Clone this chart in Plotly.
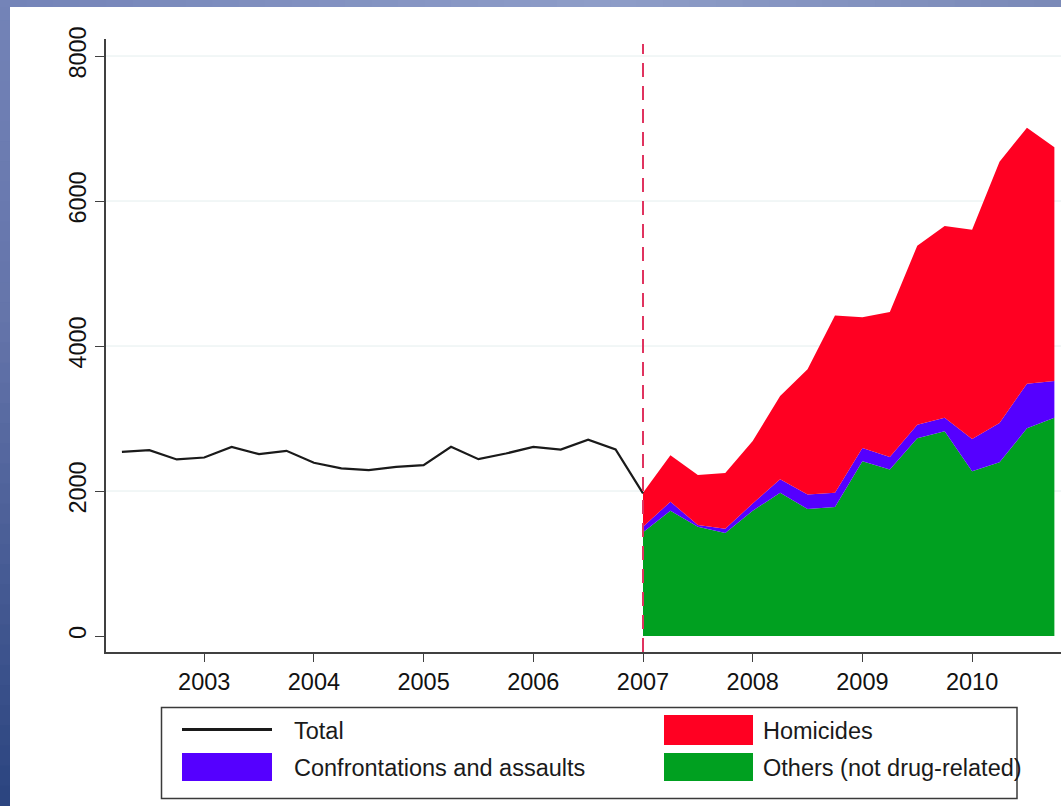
import plotly.graph_objects as go

# ---------------- data ----------------
quarters_pre = ["2002q2", "2002q3", "2002q4", "2003q1", "2003q2", "2003q3", "2003q4",
                "2004q1", "2004q2", "2004q3", "2004q4", "2005q1", "2005q2", "2005q3",
                "2005q4", "2006q1", "2006q2", "2006q3", "2006q4", "2007q1"]
total_pre = [2540, 2563, 2435, 2462, 2609, 2508, 2554, 2389, 2311, 2288, 2334, 2357,
             2609, 2439, 2517, 2609, 2572, 2709, 2572, 1968]

quarters_post = ["2007q1", "2007q2", "2007q3", "2007q4", "2008q1", "2008q2", "2008q3",
                 "2008q4", "2009q1", "2009q2", "2009q3", "2009q4", "2010q1", "2010q2",
                 "2010q3", "2010q4"]
others = [1432, 1728, 1506, 1422, 1728, 1975, 1753, 1778, 2410, 2296, 2726, 2825,
          2272, 2395, 2864, 3012]
confrontations = [74, 124, 25, 59, 99, 188, 198, 197, 183, 173, 188, 187, 444, 543,
                  617, 504]
homicides = [469, 642, 691, 766, 864, 1146, 1728, 2445, 1802, 2000, 2469, 2642, 2889,
             3605, 3531, 3225]

x_tick_years = [2003, 2004, 2005, 2006, 2007, 2008, 2009, 2010]
y_ticks = [0, 2000, 4000, 6000, 8000]
policy_year = 2007

legend_labels = ["Total", "Confrontations and assaults", "Homicides", "Others (not drug-related)"]


def qdec(q):
    y, n = q.split("q")
    return int(y) + (int(n) - 1) / 4.0


x_pre = [qdec(q) for q in quarters_pre]
x_post = [qdec(q) for q in quarters_post]

RED = "#ff0022"
PURPLE = "#5500ff"
GREEN = "#00a020"
FONT = "Liberation Sans, Arial, Helvetica, sans-serif"

W, H = 1061, 806
L, R, T, B = 106, 0, 39, 154
PW, PH = W - L - R, H - T - B


def px(x):
    return (x - L) / PW


def py(y):
    return (H - B - y) / PH


fig = go.Figure()

fig.add_trace(go.Scatter(x=x_post, y=others, stackgroup="s", mode="none",
                         fillcolor=GREEN, name=legend_labels[3]))
fig.add_trace(go.Scatter(x=x_post, y=confrontations, stackgroup="s", mode="none",
                         fillcolor=PURPLE, name=legend_labels[1]))
fig.add_trace(go.Scatter(x=x_post, y=homicides, stackgroup="s", mode="none",
                         fillcolor=RED, name=legend_labels[2]))
fig.add_trace(go.Scatter(x=x_pre, y=total_pre, mode="lines",
                         line=dict(color="#1a1a1a", width=2.2), name=legend_labels[0]))

shapes = []
# gridlines (no line at the axis minimum)
for v in y_ticks[1:]:
    shapes.append(dict(type="line", xref="paper", yref="y", x0=0, x1=1, y0=v, y1=v,
                       line=dict(color="#e4eeee", width=1), layer="below"))
# vertical dashed policy line
shapes.append(dict(type="line", xref="x", yref="paper", x0=policy_year, x1=policy_year,
                   y0=0, y1=py(44), line=dict(color="#e0335f", width=2, dash="14px,9px"),
                   layer="above"))


# background gradient strips
def lerp(c1, c2, t):
    a = [int(c1[i:i + 2], 16) for i in (1, 3, 5)]
    b = [int(c2[i:i + 2], 16) for i in (1, 3, 5)]
    return "rgb(%d,%d,%d)" % tuple(round(a[k] + (b[k] - a[k]) * t) for k in range(3))


N = 40
for i in range(N):
    y0 = H * i / N
    y1 = H * (i + 1) / N + 1
    t = i / (N - 1)
    col = lerp("#7383b7", "#6474aa", t / 0.4) if t < 0.4 else lerp("#6474aa", "#2c4580", (t - 0.4) / 0.6)
    shapes.append(dict(type="rect", xref="paper", yref="paper", x0=px(0), x1=px(10),
                       y0=py(y1), y1=py(y0), fillcolor=col, line=dict(width=0), layer="below"))
for i in range(N):
    x0 = W * i / N
    x1 = W * (i + 1) / N + 1
    t = i / (N - 1)
    col = lerp("#7484b8", "#8e9dc8", t / 0.57) if t < 0.57 else lerp("#8e9dc8", "#7b8ab8", (t - 0.57) / 0.43)
    shapes.append(dict(type="rect", xref="paper", yref="paper", x0=px(max(x0, 0)), x1=px(min(x1, W)),
                       y0=py(7), y1=py(0), fillcolor=col, line=dict(width=0), layer="below"))

# custom legend
shapes.append(dict(type="rect", xref="paper", yref="paper", x0=px(161.5), x1=px(1017),
                   y0=py(798.5), y1=py(707.5), line=dict(color="#3a3a3a", width=1.5),
                   fillcolor="white"))
shapes.append(dict(type="line", xref="paper", yref="paper", x0=px(182), x1=px(272),
                   y0=py(729.5), y1=py(729.5), line=dict(color="#1a1a1a", width=3)))
shapes.append(dict(type="rect", xref="paper", yref="paper", x0=px(182), x1=px(272),
                   y0=py(781), y1=py(753), fillcolor=PURPLE, line=dict(width=0)))
shapes.append(dict(type="rect", xref="paper", yref="paper", x0=px(664), x1=px(753),
                   y0=py(745), y1=py(715), fillcolor=RED, line=dict(width=0)))
shapes.append(dict(type="rect", xref="paper", yref="paper", x0=px(664), x1=px(753),
                   y0=py(781), y1=py(753), fillcolor=GREEN, line=dict(width=0)))

annotations = []
for text, xx, yy in [(legend_labels[0], 292, 731), (legend_labels[1], 292, 768),
                     (legend_labels[2], 761, 731), (legend_labels[3], 761, 768)]:
    annotations.append(dict(text=text, xref="paper", yref="paper", x=px(xx), y=py(yy),
                            xanchor="left", yanchor="middle", showarrow=False,
                            font=dict(family=FONT, size=23.5, color="#1a1a1a")))

x_lo = 2007 - (643 - L) / 109.7
x_hi = 2007 + (W - 643) / 109.7
y_lo = -(652 - 636) / 0.0725
y_hi = (636 - 39) / 0.0725

fig.update_layout(
    width=W, height=H,
    margin=dict(l=L, r=R, t=T, b=B, pad=0),
    paper_bgcolor="white", plot_bgcolor="white",
    showlegend=False,
    shapes=shapes, annotations=annotations,
    xaxis=dict(range=[x_lo, x_hi], tickvals=x_tick_years, ticktext=[str(v) for v in x_tick_years],
               showgrid=False, zeroline=False, showline=True, linecolor="#404040", linewidth=1.5,
               ticks="outside", ticklen=8, tickwidth=1.2, tickcolor="#404040",
               tickfont=dict(family=FONT, size=23.5, color="#111111")),
    yaxis=dict(range=[y_lo, y_hi], tickvals=y_ticks, ticktext=[str(v) for v in y_ticks],
               showgrid=False, zeroline=False, showline=True, linecolor="#404040", linewidth=1.5,
               ticks="outside", ticklen=9, tickwidth=1.2, tickcolor="#404040", tickangle=-90,
               tickfont=dict(family=FONT, size=23.5, color="#111111")),
)

fig.write_html("out.html", config={"displayModeBar": False},
               post_script="document.body.style.margin='0px';document.body.style.overflow='hidden';")
